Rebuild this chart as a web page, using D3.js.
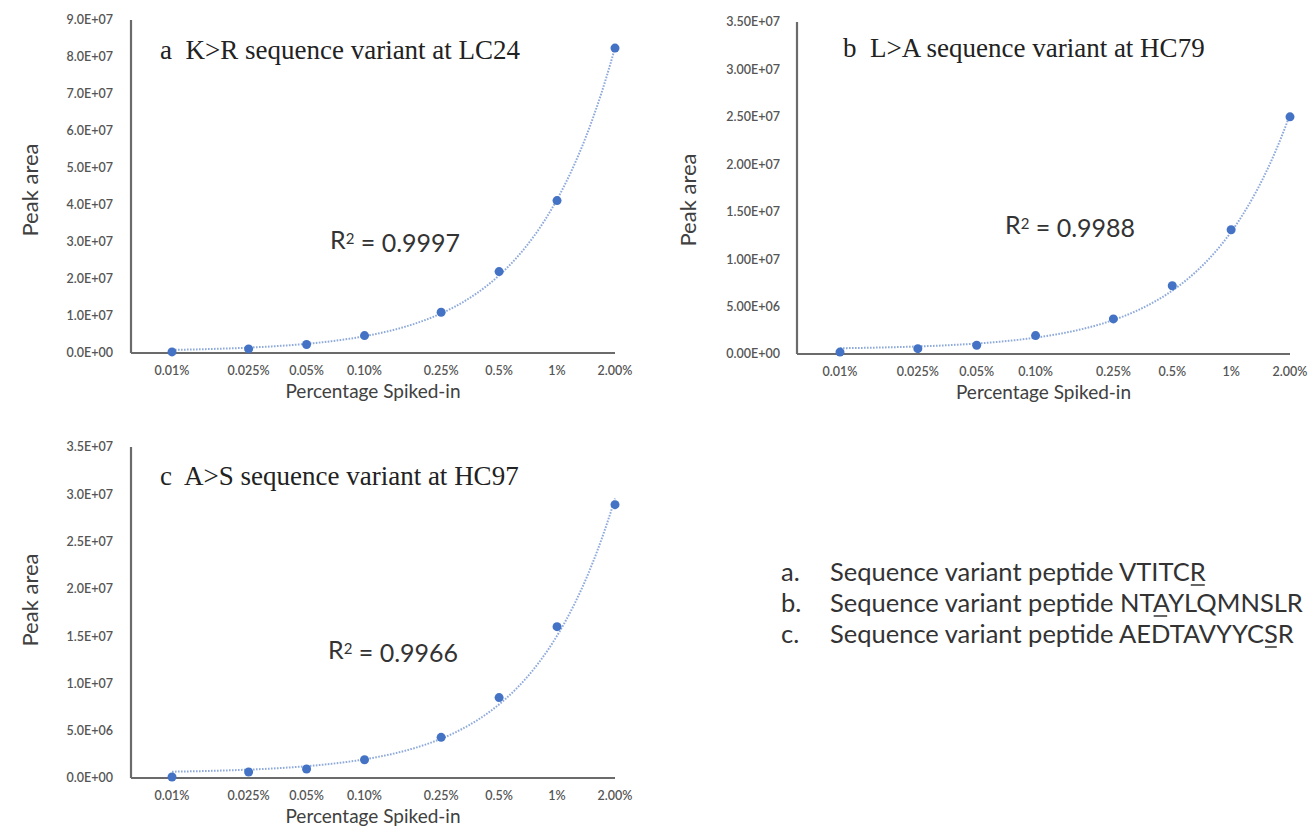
<!DOCTYPE html>
<html lang="en">
<head>
    <meta charset="UTF-8">
    <title>Peak area vs percentage spiked-in</title>
    <script src="https://d3js.org/d3.v7.min.js"></script>
    <style>
        body { margin: 0; background: #fff; }
        text { white-space: pre; }
    </style>
</head>
<body>
    <div id="chart-container"></div>
    <script>
        // Spiked-in percentages (x) and their printed labels
        const pct = [0.01, 0.025, 0.05, 0.1, 0.25, 0.5, 1, 2];
        const pctLabels = ["0.01%", "0.025%", "0.05%", "0.10%", "0.25%", "0.5%", "1%", "2.00%"];

        // Peak areas
        const areaA = [0.3e6, 1.1e6, 2.3e6, 4.7e6, 1.1e7, 2.2e7, 4.12e7, 8.24e7];
        const areaB = [0.2e6, 0.56e6, 0.92e6, 1.94e6, 3.7e6, 7.2e6, 1.31e7, 2.5e7];
        const areaC = [0.1e6, 0.63e6, 0.95e6, 1.93e6, 4.3e6, 8.5e6, 1.6e7, 2.89e7];

        // y axis ticks
        const yTicksA = [0, 1e7, 2e7, 3e7, 4e7, 5e7, 6e7, 7e7, 8e7, 9e7];
        const yTicksB = [0, 5e6, 1e7, 1.5e7, 2e7, 2.5e7, 3e7, 3.5e7];
        const yTicksC = [0, 5e6, 1e7, 1.5e7, 2e7, 2.5e7, 3e7, 3.5e7];

        const titles = ["a  K>R sequence variant at LC24", "b  L>A sequence variant at HC79", "c  A>S sequence variant at HC97"];
        const r2Labels = ["0.9997", "0.9988", "0.9966"];

        const legendKeys = ["a.", "b.", "c."];
        const legendText = ["Sequence variant peptide VTITCR", "Sequence variant peptide NTAYLQMNSLR", "Sequence variant peptide AEDTAVYYCSR"];
        const legendMark = [30, 27, 34]; // index of underlined residue

        const width = 1312, height = 829;
        const sans = "Lato, 'Open Sans', sans-serif";

        const svg = d3.select("#chart-container")
            .append("svg")
            .attr("width", width)
            .attr("height", height);

        // Excel style E+ notation
        function sci(d, digits) {
            const [m, e] = d.toExponential(digits).split("e");
            return m + "E" + (e[0] === "-" ? "-" : "+") + String(Math.abs(+e)).padStart(2, "0");
        }

        // least squares line on the raw percentages (Excel linear trendline)
        function linFit(xs, ys) {
            const mx = d3.mean(xs), my = d3.mean(ys);
            const b = d3.sum(xs, (x, i) => (x - mx) * (ys[i] - my)) / d3.sum(xs, x => (x - mx) * (x - mx));
            return { a: my - b * mx, b };
        }

        const panels = [
            { values: areaA, ticks: yTicksA, digits: 1, yMax: 9e7, x0: 131, x1: 172, x2: 615, y0: 353, y1: 20,
              title: [160, 50], r2: [330, 240], ylab: [30, 190], tickX: 113 },
            { values: areaB, ticks: yTicksB, digits: 2, yMax: 3.5e7, x0: 797, x1: 840, x2: 1290, y0: 354, y1: 22,
              title: [843, 48], r2: [1005, 225], ylab: [688, 200], tickX: 780 },
            { values: areaC, ticks: yTicksC, digits: 1, yMax: 3.5e7, x0: 131, x1: 172, x2: 615, y0: 778, y1: 447,
              title: [160, 476], r2: [328, 650], ylab: [30, 600], tickX: 113 }
        ];

        panels.forEach((p, k) => {
            const x = d3.scaleLog().domain([pct[0], pct[pct.length - 1]]).range([p.x1, p.x2]);
            const y = d3.scaleLinear().domain([0, p.yMax]).range([p.y0, p.y1]);
            const g = svg.append("g");

            // axis lines
            g.append("line").attr("x1", p.x0).attr("x2", p.x0).attr("y1", p.y1).attr("y2", p.y0)
                .attr("stroke", "#6b6b6b").attr("stroke-width", 2.2);
            g.append("line").attr("x1", p.x0).attr("x2", p.x2).attr("y1", p.y0).attr("y2", p.y0)
                .attr("stroke", "#6b6b6b").attr("stroke-width", 2.2);

            // y tick labels
            g.selectAll(".ytick").data(p.ticks).enter().append("text")
                .attr("x", p.tickX).attr("y", d => y(d)).attr("dy", "0.35em")
                .attr("text-anchor", "end")
                .style("font", `600 12.5px ${sans}`).style("fill", "#555")
                .text(d => sci(d, p.digits));

            // x tick labels
            g.selectAll(".xtick").data(pct).enter().append("text")
                .attr("x", d => x(d)).attr("y", p.y0 + 18).attr("dy", "0.35em")
                .attr("text-anchor", "middle")
                .style("font", `600 12.5px ${sans}`).style("fill", "#555")
                .text((d, i) => pctLabels[i]);

            // axis titles
            g.append("text").attr("x", (p.x0 + p.x2) / 2).attr("y", p.y0 + 38).attr("dy", "0.35em")
                .attr("text-anchor", "middle")
                .style("font", `19px ${sans}`).style("fill", "#404040")
                .text("Percentage Spiked-in");
            g.append("text")
                .attr("transform", `translate(${p.ylab[0]},${p.ylab[1]}) rotate(-90)`)
                .attr("dy", "0.35em").attr("text-anchor", "middle")
                .style("font", `22px ${sans}`).style("fill", "#404040")
                .text("Peak area");

            // trendline
            const fit = linFit(pct, p.values);
            const xs = d3.range(0, 201).map(i => pct[0] * Math.pow(pct[pct.length - 1] / pct[0], i / 200));
            const line = d3.line().x(d => x(d)).y(d => y(fit.a + fit.b * d));
            g.append("path").attr("d", line(xs))
                .attr("fill", "none").attr("stroke", "#8eaadb")
                .attr("stroke-width", 2).attr("stroke-dasharray", "1.6 1.4");

            // points
            g.selectAll(".pt").data(p.values).enter().append("circle")
                .attr("cx", (d, i) => x(pct[i])).attr("cy", d => y(d)).attr("r", 4.5)
                .attr("fill", "#4472c4");

            // panel title
            g.append("text").attr("x", p.title[0]).attr("y", p.title[1]).attr("dy", "0.35em")
                .style("font", "27px 'Liberation Serif', 'Times New Roman', serif").style("fill", "#222")
                .text(titles[k]);

            // R squared
            const r = g.append("text").attr("x", p.r2[0]).attr("y", p.r2[1]).attr("dy", "0.35em")
                .style("font", `25px ${sans}`).style("fill", "#333");
            r.append("tspan").text("R");
            r.append("tspan").attr("dy", "-0.35em").style("font-size", "15px").text("2");
            r.append("tspan").attr("dy", "0.35em").text(" = " + r2Labels[k]);
        });

        // legend of peptides
        legendText.forEach((t, i) => {
            const yy = 572 + i * 31;
            svg.append("text").attr("x", 781).attr("y", yy).attr("dy", "0.35em")
                .style("font", `25.5px ${sans}`).style("fill", "#333").text(legendKeys[i]);
            const txt = svg.append("text").attr("x", 830).attr("y", yy).attr("dy", "0.35em")
                .style("font", `25.5px ${sans}`).style("fill", "#333").text(t);
            const node = txt.node();
            const sx = 830 + node.getSubStringLength(0, legendMark[i]);
            const sw = node.getSubStringLength(legendMark[i], 1);
            svg.append("line").attr("x1", sx + 1).attr("x2", sx + sw - 1)
                .attr("y1", yy + 13).attr("y2", yy + 13)
                .attr("stroke", "#333").attr("stroke-width", 1.5);
        });
    </script>
</body>
</html>
